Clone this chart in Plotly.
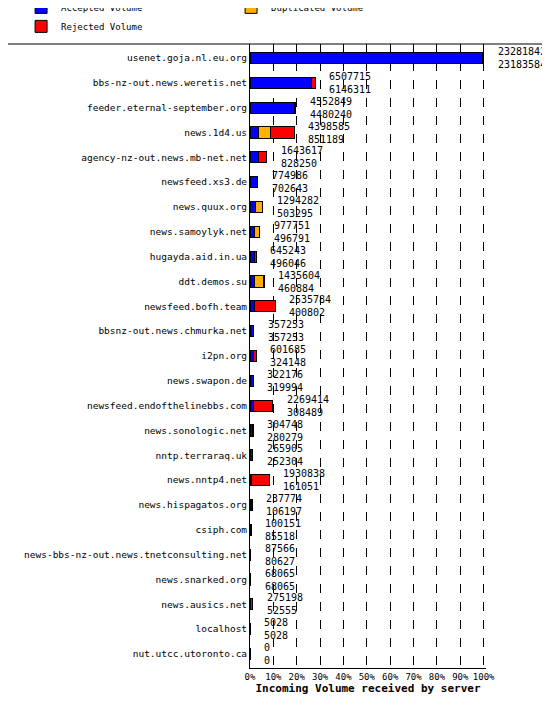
import plotly.graph_objects as go

servers = [
    "usenet.goja.nl.eu.org", "bbs-nz-out.news.weretis.net", "feeder.eternal-september.org",
    "news.1d4.us", "agency-nz-out.news.mb-net.net", "newsfeed.xs3.de", "news.quux.org",
    "news.samoylyk.net", "hugayda.aid.in.ua", "ddt.demos.su", "newsfeed.bofh.team",
    "bbsnz-out.news.chmurka.net", "i2pn.org", "news.swapon.de", "newsfeed.endofthelinebbs.com",
    "news.sonologic.net", "nntp.terraraq.uk", "news.nntp4.net", "news.hispagatos.org",
    "csiph.com", "news-bbs-nz-out.news.tnetconsulting.net", "news.snarked.org",
    "news.ausics.net", "localhost", "nut.utcc.utoronto.ca",
]
total = [23281842, 6507715, 4552849, 4398585, 1643617, 774986, 1294282, 977751, 645243,
         1435604, 2535784, 357253, 601685, 322176, 2269414, 304748, 265905, 1930838,
         237774, 100151, 87566, 68065, 275198, 5028, 0]
accepted = [23183584, 6146311, 4480240, 851189, 828250, 702643, 503295, 496791, 496046,
            460884, 400802, 357253, 324148, 319994, 308489, 280279, 252304, 161051,
            106197, 85518, 80627, 68065, 52555, 5028, 0]
duplicated = [0, 0, 0, 1170000, 0, 0, 760000, 400000, 0, 900000, 0, 0, 0, 0, 0, 0, 0, 0,
              0, 0, 0, 0, 0, 0, 0]
rejected = [t - a - d for t, a, d in zip(total, accepted, duplicated)]
tick_vals = list(range(0, 101, 10))
tick_text = [f"{v}%" for v in tick_vals]

vmax = max(total)
pct = lambda vals: [v / vmax * 100 for v in vals]

fig = go.Figure()
for name, vals, color in [("Accepted Volume", accepted, "#0000ff"),
                          ("Duplicated Volume", duplicated, "#ffb000"),
                          ("Rejected Volume", rejected, "#ff0000")]:
    fig.add_trace(go.Bar(
        name=name, y=servers, x=pct(vals), orientation="h",
        marker=dict(color=color, line=dict(color="black", width=1)),
        width=0.45,
    ))

for s, t, a in zip(servers, total, accepted):
    fig.add_annotation(
        x=t / vmax * 100, y=s, text=f"{t}<br>{a}", showarrow=False,
        xanchor="left", xshift=12, align="left",
        font=dict(size=10, color="black", family="DejaVu Sans Mono"),
    )

# separator under the legend
fig.add_shape(type="line", xref="paper", yref="paper", x0=-1.1, x1=1.4, y0=1.0, y1=1.0,
              line=dict(color="black", width=1))

fig.update_layout(
    width=550, height=705, barmode="stack", bargap=0.5,
    paper_bgcolor="white", plot_bgcolor="white",
    margin=dict(l=242, r=72, t=36, b=45, autoexpand=False),
    font=dict(family="DejaVu Sans Mono", size=10, color="black"),
    legend=dict(orientation="h", x=-0.97, y=1.005, xanchor="left", yanchor="bottom",
                font=dict(size=9), traceorder="normal", entrywidth=165,
                entrywidthmode="pixels"),
    xaxis=dict(range=[0, 101], tickvals=tick_vals, ticktext=tick_text,
               showgrid=True, gridcolor="black", griddash="dash", gridwidth=1,
               showline=True, linecolor="black", zeroline=False, automargin=False,
               tickfont=dict(size=9),
               title=dict(text="<b>Incoming Volume received by server</b>", font=dict(size=11),
                          standoff=2)),
    yaxis=dict(autorange="reversed", showline=True, linecolor="black", ticks="",
               automargin=False, tickfont=dict(size=9.5)),
)
fig.write_html("out.html")
